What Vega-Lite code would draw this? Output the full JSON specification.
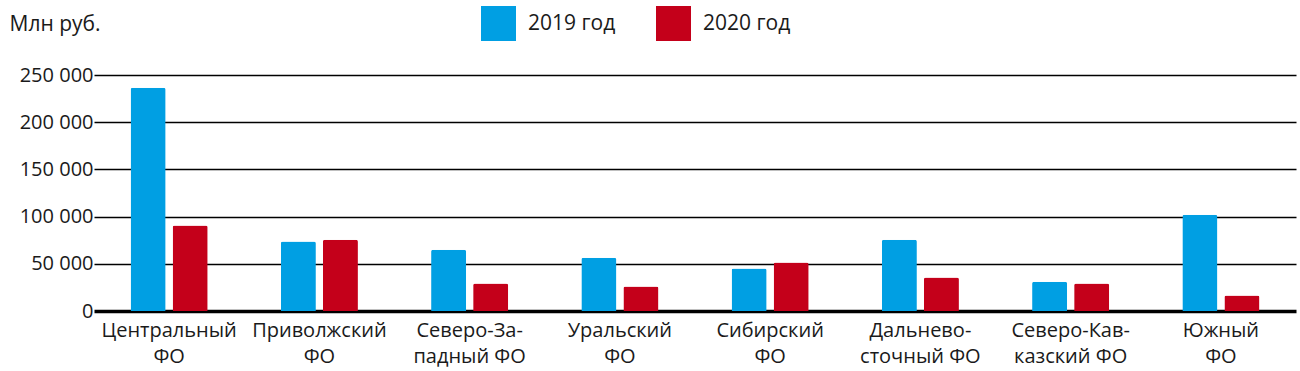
{
  "$schema": "https://vega.github.io/schema/vega-lite/v6.json",
  "autosize": {"type": "none"},
  "padding": {"left": 101, "top": 75, "right": 13, "bottom": 60},
  "width": 1186,
  "height": 236,
  "background": "white",
  "config": {"view": {"stroke": null}, "font": "Open Sans"},
  "data": {"values": [
    {"district": "Центральный ФО", "year": "2019 год", "value": 236500},
    {"district": "Центральный ФО", "year": "2020 год", "value": 90500},
    {"district": "Приволжский ФО", "year": "2019 год", "value": 73500},
    {"district": "Приволжский ФО", "year": "2020 год", "value": 75500},
    {"district": "Северо-Западный ФО", "year": "2019 год", "value": 65000},
    {"district": "Северо-Западный ФО", "year": "2020 год", "value": 29000},
    {"district": "Уральский ФО", "year": "2019 год", "value": 56500},
    {"district": "Уральский ФО", "year": "2020 год", "value": 26000},
    {"district": "Сибирский ФО", "year": "2019 год", "value": 45000},
    {"district": "Сибирский ФО", "year": "2020 год", "value": 51500},
    {"district": "Дальневосточный ФО", "year": "2019 год", "value": 75500},
    {"district": "Дальневосточный ФО", "year": "2020 год", "value": 35500},
    {"district": "Северо-Кавказский ФО", "year": "2019 год", "value": 31000},
    {"district": "Северо-Кавказский ФО", "year": "2020 год", "value": 29000},
    {"district": "Южный ФО", "year": "2019 год", "value": 102000},
    {"district": "Южный ФО", "year": "2020 год", "value": 16500}
  ]},
  "mark": {"type": "bar", "cornerRadiusTopLeft": 2, "cornerRadiusTopRight": 2},
  "encoding": {
    "x": {
      "field": "district", "type": "nominal", "sort": null,
      "scale": {"paddingInner": 0, "paddingOuter": 0, "range": [-7, 1195]},
      "axis": {
        "title": null, "labelAngle": 0, "ticks": false,
        "domain": false,
        "labelFontSize": 20, "labelColor": "#1a1a1a", "labelPadding": 9,
        "labelLineHeight": 26, "labelBaseline": "top",
        "labelExpr": "datum.value == 'Северо-Западный ФО' ? ['Северо-За-', 'падный ФО'] : datum.value == 'Дальневосточный ФО' ? ['Дальнево-', 'сточный ФО'] : datum.value == 'Северо-Кавказский ФО' ? ['Северо-Кав-', 'казский ФО'] : split(datum.value, ' ')"
      }
    },
    "xOffset": {"field": "year", "type": "nominal", "scale": {"paddingInner": 0.167, "paddingOuter": 0.87}},
    "y": {
      "field": "value", "type": "quantitative",
      "scale": {"domain": [0, 250000], "nice": false},
      "axis": {
        "values": [0, 50000, 100000, 150000, 200000, 250000],
        "format": ",d",
        "labelExpr": "replace(datum.label, /,/g, ' ')",
        "domain": false, "ticks": false,
        "grid": true, "gridColor": "black", "gridOpacity": 1,
        "gridWidth": {"condition": {"test": "datum.value === 0", "value": 3.5}, "value": 1.5},
        "labelFontSize": 20, "labelColor": "#1a1a1a", "labelPadding": 8,
        "title": "Млн руб.", "titleAngle": 0, "titleAlign": "left", "titleBaseline": "alphabetic",
        "titleX": -92, "titleY": -45, "titleFontSize": 21, "titleFontWeight": "normal", "titleColor": "#1a1a1a"
      }
    },
    "color": {
      "field": "year", "type": "nominal",
      "scale": {"domain": ["2019 год", "2020 год"], "range": ["#009fe3", "#c4001a"]},
      "legend": {
        "title": null, "orient": "none", "direction": "horizontal",
        "legendX": 380, "legendY": -69,
        "symbolType": "square", "symbolSize": 1225, "symbolStrokeWidth": 0,
        "labelFontSize": 21, "labelColor": "#1a1a1a", "labelOffset": 12,
        "columnPadding": 40
      }
    }
  }
}
